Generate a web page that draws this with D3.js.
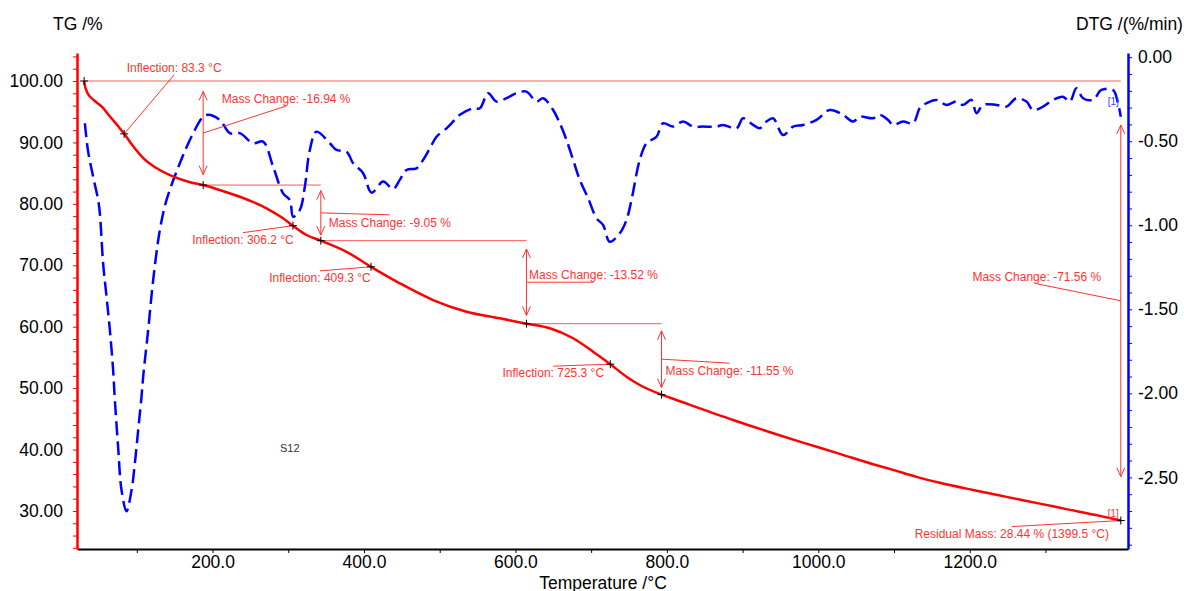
<!DOCTYPE html>
<html>
<head>
<meta charset="utf-8">
<script src="https://cdn.jsdelivr.net/npm/d3@7"></script>
<style>
  body { margin: 0; background: #fff; }
  text { font-family: "Liberation Sans", Arial, sans-serif; }
</style>
</head>
<body>
<div id="tga"></div>
<script>
// TG curve: temperature (°C) and mass (%)
var tgTemp = [30.4, 31.2, 34.0, 42.9, 53.8, 64.8, 75.9, 83.3, 95.7, 108.9, 126.4, 148.5, 170.4,
  187.6, 209.6, 236.0, 271.3, 293.2, 306.2, 324.1, 343.0, 376.9, 409.3, 447.3, 491.3, 535.4,
  579.4, 614.6, 645.4, 676.2, 702.6, 725.3, 746.7, 764.2, 792.9, 812.7, 887.4, 975.5, 1028.3,
  1072.3, 1094.4, 1129.6, 1160.4, 1204.4, 1248.5, 1292.4, 1327.7, 1371.7, 1399.5];
var tgMass = [100.0, 99.4, 98.26, 96.91, 95.82, 94.19, 92.56, 91.4, 89.3, 87.42, 85.79, 84.42,
  83.51, 83.06, 82.25, 81.16, 79.28, 77.65, 76.45, 74.93, 74.01, 72.2, 69.75, 67.07, 64.34,
  62.44, 61.37, 60.49, 59.74, 58.12, 55.93, 53.9, 51.86, 50.51, 48.94, 48.07, 44.82, 41.29,
  39.3, 37.6, 36.85, 35.55, 34.6, 33.42, 32.3, 31.2, 30.3, 29.2, 28.44];

// DTG curve: temperature (°C) and rate (%/min)
var dtgTemp = [31.4, 35.7, 42.3, 48.9, 51.2, 55.5, 60.0, 64.4, 68.7, 71.0, 75.3, 79.8, 86.4,
  93.0, 97.4, 101.8, 106.2, 108.4, 115.0, 121.6, 130.4, 139.3, 156.8, 174.4, 187.6, 194.2,
  209.6, 222.8, 236.1, 253.6, 266.8, 280.0, 293.2, 302.1, 306.4, 315.3, 321.9, 328.5, 337.3,
  354.9, 363.7, 377.0, 385.7, 398.9, 410.0, 425.3, 438.5, 447.3, 456.2, 469.4, 478.1, 487.0,
  495.8, 509.0, 515.6, 526.6, 544.1, 553.0, 563.9, 575.0, 588.2, 601.4, 614.6, 627.8, 636.5,
  649.8, 658.6, 667.4, 676.2, 685.0, 696.0, 707.1, 715.8, 724.6, 737.8, 746.7, 753.3, 764.2,
  773.1, 786.3, 795.0, 808.2, 821.4, 834.6, 847.8, 865.5, 874.2, 891.9, 900.7, 913.9, 922.7,
  931.5, 940.3, 953.5, 966.7, 979.9, 997.6, 1015.1, 1032.7, 1045.9, 1054.8, 1072.3, 1081.2,
  1092.1, 1098.7, 1111.9, 1125.1, 1134.0, 1142.8, 1156.0, 1169.2, 1182.4, 1191.2, 1202.2,
  1208.8, 1217.6, 1235.3, 1248.5, 1261.7, 1274.9, 1283.6, 1296.8, 1310.0, 1323.2, 1332.1,
  1340.9, 1349.6, 1362.8, 1373.9, 1389.2, 1395.8, 1399.5];
var dtgRate = [-0.393, -0.562, -0.711, -0.849, -0.929, -1.226, -1.425, -1.623, -1.861, -2.04,
  -2.318, -2.576, -2.701, -2.576, -2.417, -2.218, -2.02, -1.901, -1.623, -1.326, -1.028,
  -0.849, -0.631, -0.452, -0.354, -0.343, -0.373, -0.452, -0.452, -0.512, -0.502, -0.651,
  -0.81, -0.849, -0.949, -0.909, -0.77, -0.552, -0.443, -0.512, -0.552, -0.562, -0.631,
  -0.69, -0.806, -0.74, -0.784, -0.73, -0.671, -0.661, -0.611, -0.542, -0.473, -0.423,
  -0.393, -0.343, -0.304, -0.304, -0.214, -0.264, -0.244, -0.214, -0.205, -0.264, -0.244,
  -0.314, -0.393, -0.492, -0.611, -0.73, -0.839, -0.958, -0.998, -1.098, -1.048, -0.968,
  -0.849, -0.611, -0.512, -0.473, -0.393, -0.413, -0.383, -0.413, -0.413, -0.413, -0.403,
  -0.423, -0.363, -0.403, -0.423, -0.383, -0.363, -0.463, -0.413, -0.403, -0.373, -0.314,
  -0.343, -0.383, -0.354, -0.363, -0.343, -0.373, -0.403, -0.383, -0.393, -0.304, -0.274,
  -0.254, -0.284, -0.264, -0.284, -0.254, -0.333, -0.284, -0.284, -0.294, -0.244, -0.264,
  -0.314, -0.294, -0.254, -0.235, -0.264, -0.185, -0.244, -0.254, -0.195, -0.195, -0.274,
  -0.354];

// evaluation results
var inflTemp = [83.3, 306.2, 409.3, 725.3];
var inflMass = [91.4, 76.45, 69.75, 53.9];
var stepTemp = [187.6, 343.0, 614.6, 792.9];
var stepFrom = [100.0, 83.06, 74.01, 60.49];
var stepTo = [83.06, 74.01, 60.49, 48.94];
var startTemp = 30.4, startMass = 100.0;
var residualTemp = 1399.5, residualMass = 28.44;

// tick labels
var tgTicks = [30, 40, 50, 60, 70, 80, 90, 100];
var dtgTicks = [0, -0.5, -1.0, -1.5, -2.0, -2.5];
var tempTicks = [200, 400, 600, 800, 1000, 1200];

// set the dimensions and margins of the graph
var margin = {top: 53, right: 56, bottom: 42, left: 77},
    width = 1184 - margin.left - margin.right,
    height = 591 - margin.top - margin.bottom;

var root = d3.select("#tga")
  .append("svg")
    .attr("width", 1184)
    .attr("height", 591);
var svg = root.append("g")
    .attr("transform", "translate(" + margin.left + "," + margin.top + ")");

var x = d3.scaleLinear().domain([21, 1409]).range([0, width]);
var y = d3.scaleLinear().domain([23.81, 104.56]).range([height, 0]);
var y2 = d3.scaleLinear().domain([-2.926, 0.025]).range([height, 0]);

var annoColor = "#ff3333";

// X axis
var xAxis = svg.append("g")
  .attr("transform", "translate(0," + height + ")")
  .call(d3.axisBottom(x)
    .tickValues(d3.range(100, 1301, 100))
    .tickSize(4).tickSizeOuter(0)
    .tickFormat(function(d) { return tempTicks.indexOf(d) >= 0 ? d.toFixed(1) : ""; }));
xAxis.select(".domain").attr("stroke", "#000").attr("stroke-width", 2);
xAxis.selectAll(".tick line").attr("stroke", "#000");
xAxis.selectAll("text").attr("font-size", "17.5px").attr("fill", "#000")
  .attr("font-family", "Liberation Sans, Arial, sans-serif");

// left TG axis
var yAxis = svg.append("g")
  .call(d3.axisLeft(y)
    .tickValues(d3.range(24, 105, 2))
    .tickSize(4).tickSizeOuter(0).tickPadding(10)
    .tickFormat(function(d) { return tgTicks.indexOf(d) >= 0 ? d.toFixed(2) : ""; }));
yAxis.select(".domain").attr("stroke", "#ff0000").attr("stroke-width", 2.5);
yAxis.selectAll(".tick line").attr("stroke", "#ff0000");
yAxis.selectAll("text").attr("font-size", "17.5px").attr("fill", "#000")
  .attr("font-family", "Liberation Sans, Arial, sans-serif");

// right DTG axis
var y2Axis = svg.append("g")
  .attr("transform", "translate(" + width + ",0)")
  .call(d3.axisRight(y2)
    .tickValues(d3.range(-29, 1).map(function(i) { return i / 10; }))
    .tickSize(4).tickSizeOuter(0).tickPadding(6)
    .tickFormat(function(d) {
      var hit = dtgTicks.some(function(t) { return Math.abs(t - d) < 1e-6; });
      return hit ? d.toFixed(2) : "";
    }));
y2Axis.select(".domain").attr("stroke", "#0000ff").attr("stroke-width", 2.5);
y2Axis.selectAll(".tick line").attr("stroke", "#0000ff");
y2Axis.selectAll("text").attr("font-size", "17.5px").attr("fill", "#000")
  .attr("font-family", "Liberation Sans, Arial, sans-serif");

// axis titles
root.append("text").attr("x", 53).attr("y", 30).attr("font-size", "17.5px").text("TG /%");
root.append("text").attr("x", 1076).attr("y", 30).attr("font-size", "17.5px").text("DTG /(%/min)");
root.append("text").attr("x", 603).attr("y", 589).attr("text-anchor", "middle")
  .attr("font-size", "17.5px").text("Temperature /°C");

// reference lines for the mass steps
svg.append("line")
  .attr("x1", x(startTemp)).attr("x2", x(residualTemp))
  .attr("y1", y(startMass)).attr("y2", y(startMass))
  .attr("stroke", "#ff5a5a").attr("stroke-width", 1);
for (var k = 1; k < stepTemp.length; k++) {
  svg.append("line")
    .attr("x1", x(stepTemp[k - 1])).attr("x2", x(stepTemp[k]))
    .attr("y1", y(stepFrom[k])).attr("y2", y(stepFrom[k]))
    .attr("stroke", "#ff5a5a").attr("stroke-width", 1);
}

// DTG line
var dtgLine = d3.line()
  .x(function(d, i) { return x(dtgTemp[i]); })
  .y(function(d, i) { return y2(dtgRate[i]); })
  .curve(d3.curveCatmullRom);
svg.append("path")
  .attr("d", dtgLine(dtgTemp))
  .attr("fill", "none")
  .attr("stroke", "#0000ff")
  .attr("stroke-width", 2.5)
  .attr("stroke-dasharray", "14,6");

// TG line
var tgLine = d3.line()
  .x(function(d, i) { return x(tgTemp[i]); })
  .y(function(d, i) { return y(tgMass[i]); })
  .curve(d3.curveMonotoneX);
svg.append("path")
  .attr("d", tgLine(tgTemp))
  .attr("fill", "none")
  .attr("stroke", "#ff0000")
  .attr("stroke-width", 2.5);

// helpers
function cross(px, py) {
  svg.append("path")
    .attr("d", "M" + (px - 4) + "," + py + "H" + (px + 4) + "M" + px + "," + (py - 4) + "V" + (py + 4))
    .attr("stroke", "#000").attr("stroke-width", 1).attr("fill", "none");
}
function leader(x1, y1, x2, y2_) {
  svg.append("line")
    .attr("x1", x1).attr("y1", y1).attr("x2", x2).attr("y2", y2_)
    .attr("stroke", annoColor).attr("stroke-width", 1);
}
function label(px, py, txt) {
  svg.append("text")
    .attr("x", px).attr("y", py)
    .attr("text-anchor", "middle")
    .attr("font-size", "12px")
    .attr("fill", annoColor)
    .text(txt);
}
function doubleArrow(px, yA, yB) {
  var top = yA + (yB - yA) * 0.1, bot = yA + (yB - yA) * 0.9;
  svg.append("path")
    .attr("d", "M" + px + "," + top + "V" + bot +
      "M" + (px - 4) + "," + (top + 9) + "L" + px + "," + top + "L" + (px + 4) + "," + (top + 9) +
      "M" + (px - 4) + "," + (bot - 9) + "L" + px + "," + bot + "L" + (px + 4) + "," + (bot - 9))
    .attr("fill", "none").attr("stroke", annoColor).attr("stroke-width", 1);
}

// inflection markers: leader offset and label placement (baseline shift)
var inflLayout = [[50, -59, -3], [-50, 7, 11.7], [-51, 4, 11.6], [-57, 2, 11]];
inflTemp.forEach(function(t, i) {
  var px = x(t), py = y(inflMass[i]);
  var o = inflLayout[i];
  leader(px, py, px + o[0], py + o[1]);
  label(px + o[0], py + o[1] + o[2], "Inflection: " + t.toFixed(1) + " °C");
  cross(px, py);
});

// mass steps
var stepLayout = [[83, -27, -3], [69, 2, 11.7], [67, 0, -3], [68, 4, 11.7]];
stepTemp.forEach(function(t, i) {
  var px = x(t), yA = y(stepFrom[i]), yB = y(stepTo[i]);
  doubleArrow(px, yA, yB);
  var ym = (yA + yB) / 2, o = stepLayout[i];
  leader(px, ym, px + o[0], ym + o[1]);
  label(px + o[0], ym + o[1] + o[2], "Mass Change: " + (stepTo[i] - stepFrom[i]).toFixed(2) + " %");
  cross(px, yB);
});

// total mass change
(function() {
  var px = x(residualTemp), yA = y(startMass), yB = y(residualMass);
  doubleArrow(px, yA, yB);
  var ym = (yA + yB) / 2;
  leader(px, ym, px - 84, ym - 17);
  label(px - 84, ym - 20, "Mass Change: " + (residualMass - startMass).toFixed(2) + " %");
})();

// residual mass
(function() {
  var px = x(residualTemp), py = y(residualMass);
  leader(px, py, px - 109, py + 6);
  label(px - 109, py + 17.7, "Residual Mass: " + residualMass.toFixed(2) + " % (" + residualTemp.toFixed(1) + " °C)");
  svg.append("text").attr("x", px - 2).attr("y", py - 4).attr("text-anchor", "end")
    .attr("font-size", "10px").attr("fill", annoColor).text("[1]");
  cross(px, py);
})();

// start marker
cross(x(startTemp), y(startMass));

// DTG end tag
svg.append("text")
  .attr("x", x(dtgTemp[dtgTemp.length - 1]) - 2)
  .attr("y", y2(dtgRate[dtgRate.length - 1]) - 12)
  .attr("text-anchor", "end")
  .attr("font-size", "10px").attr("fill", "#4040ff").text("[1]");

// sample name
svg.append("text")
  .attr("x", 280 - margin.left).attr("y", 452 - margin.top)
  .attr("font-size", "11px").attr("fill", "#333")
  .text("S12");
</script>
</body>
</html>
